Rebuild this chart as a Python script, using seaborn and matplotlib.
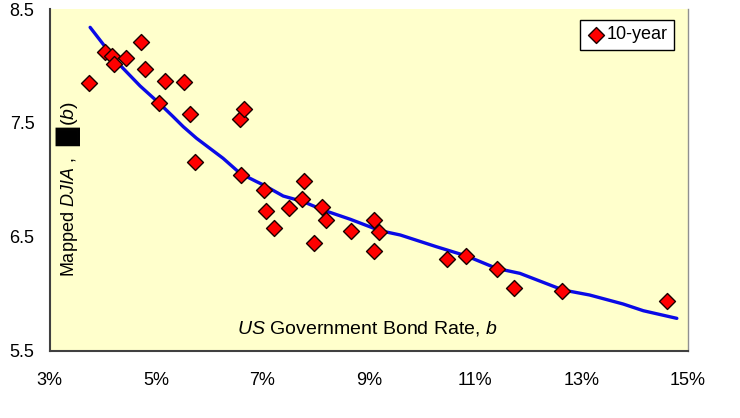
import matplotlib
matplotlib.use("Agg")
import matplotlib.pyplot as plt
import seaborn as sns
import pandas as pd

# Scatter data: bond rate (%) vs mapped DJIA
rate_pct = [3.74, 4.04, 4.17, 4.21, 4.43, 4.72, 4.79, 5.17, 5.52, 5.06,
            5.63, 5.74, 6.57, 6.66, 6.59, 7.02, 7.07, 7.21, 7.49, 7.75,
            7.79, 7.96, 8.11, 8.20, 8.67, 9.10, 9.10, 9.20, 10.46, 10.83,
            11.40, 11.72, 12.63, 14.60]
djia = [7.846, 8.122, 8.087, 8.017, 8.070, 8.210, 7.973, 7.868, 7.859, 7.672,
        7.581, 7.159, 7.534, 7.622, 7.043, 6.911, 6.727, 6.577, 6.753, 6.832,
        6.990, 6.446, 6.762, 6.648, 6.554, 6.648, 6.375, 6.542, 6.305, 6.331,
        6.217, 6.050, 6.024, 5.936]

# Fitted curve
curve_x = [3.76, 4.26, 4.70, 5.06, 5.32, 5.51, 5.76, 6.01, 6.26, 6.58, 6.89,
           7.02, 7.39, 7.77, 8.14, 8.65, 9.21, 9.59, 10.27, 10.84, 11.40,
           11.84, 12.65, 13.15, 13.78, 14.16, 14.79]
curve_y = [8.339, 8.037, 7.824, 7.672, 7.555, 7.467, 7.365, 7.277, 7.189,
           7.057, 6.984, 6.955, 6.858, 6.808, 6.735, 6.654, 6.554, 6.516,
           6.413, 6.331, 6.223, 6.179, 6.033, 5.989, 5.910, 5.851, 5.784]

x_ticks = [3, 5, 7, 9, 11, 13, 15]
x_tick_labels = ["3%", "5%", "7%", "9%", "11%", "13%", "15%"]
y_ticks = [5.5, 6.5, 7.5, 8.5]
y_tick_labels = ["5.5", "6.5", "7.5", "8.5"]

sns.set_style("white")
plt.rcParams['font.family'] = ['Liberation Sans', 'DejaVu Sans']
plt.rcParams['text.color'] = 'black'
plt.rcParams['mathtext.fontset'] = 'custom'
plt.rcParams['mathtext.rm'] = 'Liberation Sans'
plt.rcParams['mathtext.it'] = 'Liberation Sans:italic'

W, H = 740, 418
fig = plt.figure(figsize=(W / 100, H / 100), dpi=100)
ax = fig.add_axes([49.7 / W, 67.3 / H, (688 - 49.7) / W, (350.7 - 9) / H])
ax.set_facecolor("#FFFFCC")

df_pts = pd.DataFrame({"rate": rate_pct, "djia": djia})
df_curve = pd.DataFrame({"rate": curve_x, "djia": curve_y})

sns.lineplot(data=df_curve, x="rate", y="djia", ax=ax, color="#0A0AE6",
             linewidth=2.4, zorder=2, sort=True)
sns.scatterplot(data=df_pts, x="rate", y="djia", ax=ax, marker="D",
                s=66, color="#FF0000", edgecolor="#1a0000", linewidth=1.0,
                zorder=3, label="10-year")

ax.set_xlim(3, 15)
ax.set_ylim(5.5, 8.5)
ax.set_xticks(x_ticks)
ax.set_xticklabels(x_tick_labels)
ax.set_yticks(y_ticks)
ax.set_yticklabels(y_tick_labels)
ax.tick_params(axis="x", direction="out", length=5, width=1, color="#404040",
               pad=10, labelsize=13, labelcolor="black")
ax.tick_params(axis="y", direction="out", length=5, width=1, color="#404040",
               pad=6, labelsize=13, labelcolor="black")
ax.set_xlabel("")
ax.set_ylabel("")

for side in ["left", "bottom"]:
    ax.spines[side].set_color("#404040")
    ax.spines[side].set_linewidth(1.5)
ax.spines["top"].set_visible(False)
ax.spines["right"].set_color("#909090")
ax.spines["right"].set_linewidth(1.0)

ax.text(0.497, 0.066, r"$\it{US}$ Government Bond Rate, $\it{b}$",
        transform=ax.transAxes, ha="center", va="center", fontsize=14,
        color="black")

# y-axis title drawn inside the plot area, in three pieces
def fx(px):
    return px / W

def fy(py):
    return (H - py) / H

fig.text(fx(69), fy(277), "Mapped $\\it{DJIA}$ ,", rotation=90,
         ha="center", va="bottom", fontsize=13, color="black")
fig.text(fx(69), fy(137), "\u2588", rotation=90, ha="center", va="center",
         fontsize=17, family="DejaVu Sans", color="black")
fig.text(fx(69.5), fy(114), "($\\it{b}$)", rotation=90, ha="center",
         va="center", fontsize=14, color="black")

leg = ax.legend(loc="upper right", bbox_to_anchor=(0.978, 0.968), frameon=True,
                fancybox=False, framealpha=1, edgecolor="black", fontsize=13,
                handletextpad=0.1, borderpad=0.35, handlelength=1.0,
                borderaxespad=0.0)
leg.get_frame().set_linewidth(1.0)
for t in leg.get_texts():
    t.set_color("black")

fig.savefig("out.png", dpi=100)
